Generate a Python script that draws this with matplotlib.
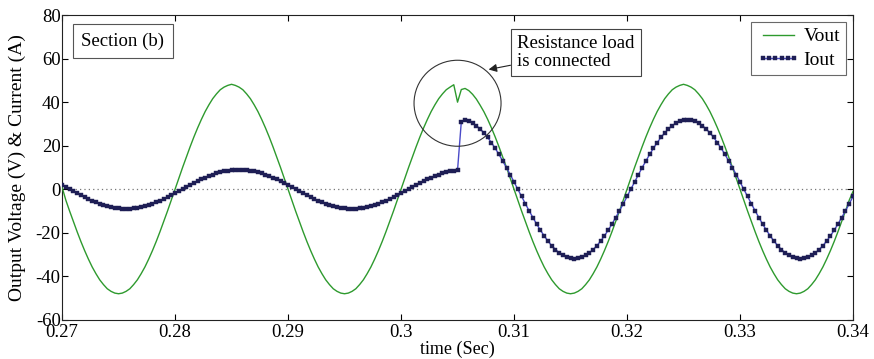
import numpy as np
import matplotlib
matplotlib.use("Agg")
import matplotlib.pyplot as plt
from matplotlib.patches import Ellipse

t_start = 0.27
t_step = 1.0 / 3000.0

vout = [
    1.0, -5.0, -10.0, -14.8, -19.5, -24.0, -28.2, -32.1, -35.7, -38.8,
    -41.6, -43.8, -45.7, -46.9, -47.7, -48.0, -47.7, -46.9, -45.7, -43.8,
    -41.6, -38.8, -35.7, -32.1, -28.2, -24.0, -19.5, -14.8, -10.0, -5.0,
    0.0, 5.0, 10.0, 14.8, 19.5, 24.0, 28.2, 32.1, 35.7, 38.8,
    41.6, 43.8, 45.7, 46.9, 47.7, 48.2, 47.7, 46.9, 45.7, 43.8,
    41.6, 38.8, 35.7, 32.1, 28.2, 24.0, 19.5, 14.8, 10.0, 5.0,
    0.0, -5.0, -10.0, -14.8, -19.5, -24.0, -28.2, -32.1, -35.7, -38.8,
    -41.6, -43.8, -45.7, -46.9, -47.7, -48.0, -47.7, -46.9, -45.7, -43.8,
    -41.6, -38.8, -35.7, -32.1, -28.2, -24.0, -19.5, -14.8, -10.0, -5.0,
    0.0, 5.0, 10.0, 14.8, 19.5, 24.0, 28.2, 32.1, 35.7, 38.8,
    41.6, 43.8, 45.7, 46.9, 48.0, 40.0, 45.8, 46.3, 45.3, 43.6,
    41.4, 38.6, 35.6, 32.1, 28.2, 24.0, 19.5, 14.8, 10.0, 5.0,
    0.0, -5.0, -10.0, -14.8, -19.5, -24.0, -28.2, -32.1, -35.7, -38.8,
    -41.6, -43.8, -45.7, -46.9, -47.7, -48.0, -47.7, -46.9, -45.7, -43.8,
    -41.6, -38.8, -35.7, -32.1, -28.2, -24.0, -19.5, -14.8, -10.0, -5.0,
    0.0, 5.0, 10.0, 14.8, 19.5, 24.0, 28.2, 32.1, 35.7, 38.8,
    41.6, 43.8, 45.7, 46.9, 47.7, 48.2, 47.7, 46.9, 45.7, 43.8,
    41.6, 38.8, 35.7, 32.1, 28.2, 24.0, 19.5, 14.8, 10.0, 5.0,
    0.0, -5.0, -10.0, -14.8, -19.5, -24.0, -28.2, -32.1, -35.7, -38.8,
    -41.6, -43.8, -45.7, -46.9, -47.7, -48.0, -47.7, -46.9, -45.7, -43.8,
    -41.6, -38.8, -35.7, -32.1, -28.2, -24.0, -19.5, -14.8, -10.0, -5.0,
    -1.0,
]

iout = [
    1.87, 0.94, 0.0, -0.94, -1.87, -2.78, -3.66, -4.5, -5.29, -6.02,
    -6.69, -7.28, -7.79, -8.22, -8.56, -8.8, -8.95, -9.0, -8.95, -8.8,
    -8.56, -8.22, -7.79, -7.28, -6.69, -6.02, -5.29, -4.5, -3.66, -2.78,
    -1.87, -0.94, 0.0, 0.94, 1.87, 2.78, 3.66, 4.5, 5.29, 6.02,
    6.69, 7.28, 7.79, 8.22, 8.56, 8.8, 8.95, 9.0, 8.95, 8.8,
    8.56, 8.22, 7.79, 7.28, 6.69, 6.02, 5.29, 4.5, 3.66, 2.78,
    1.87, 0.94, 0.0, -0.94, -1.87, -2.78, -3.66, -4.5, -5.29, -6.02,
    -6.69, -7.28, -7.79, -8.22, -8.56, -8.8, -8.95, -9.0, -8.95, -8.8,
    -8.56, -8.22, -7.79, -7.28, -6.69, -6.02, -5.29, -4.5, -3.66, -2.78,
    -1.87, -0.94, 0.0, 0.94, 1.87, 2.78, 3.66, 4.5, 5.29, 6.02,
    6.69, 7.28, 7.79, 8.22, 8.56, 8.8, 31.0, 31.8, 31.3, 30.4,
    29.2, 27.7, 25.9, 23.8, 21.4, 18.8, 16.0, 13.0, 9.9, 6.7,
    3.3, 0.0, -3.3, -6.7, -9.9, -13.0, -16.0, -18.8, -21.4, -23.8,
    -25.9, -27.7, -29.2, -30.4, -31.3, -31.8, -32.0, -31.8, -31.3, -30.4,
    -29.2, -27.7, -25.9, -23.8, -21.4, -18.8, -16.0, -13.0, -9.9, -6.7,
    -3.3, 0.0, 3.3, 6.7, 9.9, 13.0, 16.0, 18.8, 21.4, 23.8,
    25.9, 27.7, 29.2, 30.4, 31.3, 31.8, 32.0, 31.8, 31.3, 30.4,
    29.2, 27.7, 25.9, 23.8, 21.4, 18.8, 16.0, 13.0, 9.9, 6.7,
    3.3, 0.0, -3.3, -6.7, -9.9, -13.0, -16.0, -18.8, -21.4, -23.8,
    -25.9, -27.7, -29.2, -30.4, -31.3, -31.8, -32.0, -31.8, -31.3, -30.4,
    -29.2, -27.7, -25.9, -23.8, -21.4, -18.8, -16.0, -13.0, -9.9, -6.7,
    -3.3,
]

x_ticks = [0.27, 0.28, 0.29, 0.30, 0.31, 0.32, 0.33, 0.34]
x_tick_labels = ["0.27", "0.28", "0.29", "0.3", "0.31", "0.32", "0.33", "0.34"]
y_ticks = [-60, -40, -20, 0, 20, 40, 60, 80]

t_v = t_start + t_step * np.arange(len(vout))
t_i = t_start + t_step * np.arange(len(iout))

# ---- figure ----
plt.rcParams["font.family"] = ["Liberation Serif", "DejaVu Serif"]
plt.rcParams["axes.unicode_minus"] = False
fig = plt.figure(figsize=(8.74, 3.59), dpi=100)
ax = fig.add_axes([0.071, 0.109, 0.905, 0.849])

ax.axhline(0, color="#777777", lw=0.9, ls=(0, (1, 2.5)), zorder=1)

ax.plot(t_v, vout, color="#2e9a2e", lw=1.0, label="Vout", zorder=3)
ax.plot(t_i, iout, color="#4a4ac8", lw=1.0, marker="s", markersize=2.6,
        markerfacecolor="#1e1e55", markeredgecolor="#1e1e55",
        markeredgewidth=0.3, label="Iout", zorder=4)

ax.set_xlim(0.27, 0.34)
ax.set_ylim(-60, 80)
ax.set_xticks(x_ticks)
ax.set_xticklabels(x_tick_labels)
ax.set_yticks(y_ticks)
ax.tick_params(direction="in", top=True, right=True, length=4, width=0.8,
               labelsize=13.5, pad=1)
ax.tick_params(axis="x", pad=3)
for s in ax.spines.values():
    s.set_linewidth(0.8)
    s.set_color("#222222")

ax.set_xlabel("time (Sec)", fontsize=13, labelpad=0)
ax.set_ylabel("Output Voltage (V) & Current (A)", fontsize=14)
ax.yaxis.set_label_coords(-0.046, 0.5)

leg = ax.legend(loc="upper right", fontsize=14, numpoints=6, handlelength=2.2,
                frameon=True, fancybox=False, edgecolor="#444444",
                borderaxespad=0.35, handletextpad=0.2, borderpad=0.3,
                labelspacing=0.3)
leg.get_frame().set_linewidth(0.8)
for h in leg.legend_handles:
    h.set_markersize(2.3)

ax.text(0.077, 0.915, "Section (b)", transform=ax.transAxes, fontsize=13.5,
        ha="center", va="center",
        bbox=dict(boxstyle="square,pad=0.45", fc="white", ec="#555555", lw=0.8))

circ = Ellipse((0.3050, 39.5), width=0.0077, height=39.5, fill=False,
               ec="#333333", lw=0.8, zorder=5)
ax.add_patch(circ)

ax.annotate("Resistance load\nis connected", xy=(0.30775, 55.0),
            xytext=(0.3155, 62.8), fontsize=13.5, ha="center", va="center",
            multialignment="left", linespacing=1.05,
            bbox=dict(boxstyle="square,pad=0.35", fc="white", ec="#444444", lw=0.8),
            arrowprops=dict(arrowstyle="-|>", color="#222222", lw=0.8,
                            shrinkA=0, shrinkB=0, mutation_scale=12))

fig.savefig("out.png", dpi=100)
